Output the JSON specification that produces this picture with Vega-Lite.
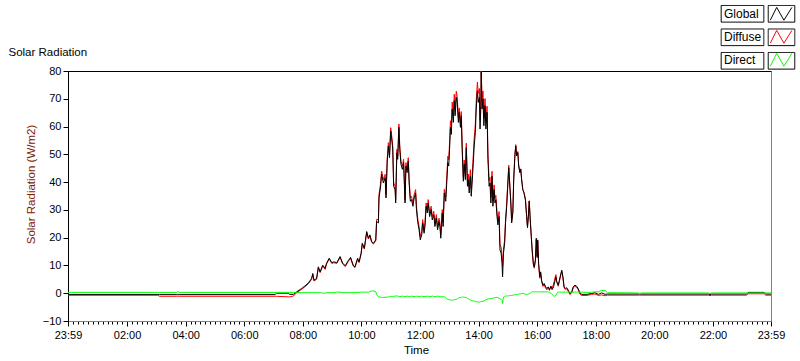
{
"$schema": "https://vega.github.io/schema/vega-lite/v6.json",
"width": 703, "height": 250,
"autosize": "none",
"padding": {"left": 68, "top": 71, "right": 29, "bottom": 40},
"background": "white",
"data": {"values": [
{"t":-0.016667,"g":-0.5,"d":-0.7,"r":0.3},
{"t":3.05,"g":-0.5,"d":-0.7,"r":0.3},
{"t":3.1,"g":-0.5,"d":-1.1,"r":0.3},
{"t":3.7,"g":-0.5,"d":-1.1,"r":0.3},
{"t":3.72,"g":-0.5,"d":-1.1,"r":0.6},
{"t":3.78,"g":-0.5,"d":-1.1,"r":0.3},
{"t":7.05,"g":-0.5,"d":-1.1,"r":0.3},
{"t":7.1,"g":0.0,"d":-1.1,"r":0.3},
{"t":7.5,"g":0.0,"d":-1.3,"r":0.3},
{"t":7.55,"g":-0.4,"d":-1.3,"r":0.3},
{"t":7.68,"g":-0.4,"d":-1.0,"r":0.3},
{"t":7.79,"g":0.5,"d":0.2,"r":0.2},
{"t":7.96,"g":1.7,"d":1.4,"r":0.2},
{"t":8.07,"g":2.6,"d":2.3,"r":0.2},
{"t":8.19,"g":3.7,"d":3.4,"r":0.2},
{"t":8.30,"g":5.3,"d":5.0,"r":0.2},
{"t":8.34,"g":7.1,"d":6.8,"r":0.2},
{"t":8.38,"g":4.7,"d":4.4,"r":0.2},
{"t":8.47,"g":5.3,"d":5.0,"r":0.2},
{"t":8.53,"g":9.5,"d":9.2,"r":0.2},
{"t":8.59,"g":7.7,"d":7.4,"r":0.2},
{"t":8.68,"g":10.1,"d":9.8,"r":0.0},
{"t":8.76,"g":8.9,"d":8.6,"r":0.0},
{"t":8.81,"g":10.8,"d":10.5,"r":0.2},
{"t":8.90,"g":12.6,"d":12.3,"r":0.2},
{"t":8.99,"g":11.0,"d":10.7,"r":0.2},
{"t":9.06,"g":11.3,"d":11.0,"r":0.2},
{"t":9.16,"g":11.0,"d":10.7,"r":0.4},
{"t":9.27,"g":13.2,"d":12.9,"r":0.4},
{"t":9.36,"g":10.8,"d":10.5,"r":0.2},
{"t":9.45,"g":9.9,"d":9.6,"r":0.2},
{"t":9.55,"g":11.7,"d":11.4,"r":0.2},
{"t":9.63,"g":12.9,"d":12.6,"r":0.2},
{"t":9.72,"g":10.1,"d":9.8,"r":0.2},
{"t":9.78,"g":9.5,"d":9.2,"r":0.2},
{"t":9.87,"g":12.6,"d":12.3,"r":0.3},
{"t":9.92,"g":11.3,"d":11.0,"r":0.3},
{"t":9.99,"g":14.4,"d":14.1,"r":0.4},
{"t":10.03,"g":18.0,"d":17.7,"r":0.4},
{"t":10.10,"g":16.2,"d":15.9,"r":0.4},
{"t":10.18,"g":22.2,"d":21.9,"r":0.4},
{"t":10.24,"g":19.8,"d":19.5,"r":0.4},
{"t":10.29,"g":21.0,"d":20.7,"r":0.6},
{"t":10.35,"g":18.6,"d":18.3,"r":0.8},
{"t":10.41,"g":18.0,"d":17.7,"r":0.8},
{"t":10.49,"g":19.2,"d":18.9,"r":0.6},
{"t":10.52,"g":25.8,"d":26.6,"r":-0.5},
{"t":10.58,"g":25.3,"d":26.5,"r":-1.3},
{"t":10.60,"g":34.3,"d":35.5,"r":-1.3},
{"t":10.65,"g":37.9,"d":39.1,"r":-1.4},
{"t":10.69,"g":42.8,"d":44.0,"r":-1.5},
{"t":10.75,"g":39.7,"d":40.9,"r":-1.5},
{"t":10.81,"g":41.6,"d":42.8,"r":-1.5},
{"t":10.84,"g":34.3,"d":35.5,"r":-1.4},
{"t":10.88,"g":47.0,"d":48.2,"r":-1.4},
{"t":10.92,"g":53.0,"d":54.2,"r":-1.3},
{"t":10.96,"g":48.8,"d":50.0,"r":-1.3},
{"t":11.00,"g":58.4,"d":59.6,"r":-1.2},
{"t":11.03,"g":56.0,"d":57.2,"r":-1.2},
{"t":11.07,"g":51.8,"d":53.0,"r":-1.2},
{"t":11.10,"g":38.5,"d":39.7,"r":-1.2},
{"t":11.15,"g":37.3,"d":38.5,"r":-1.0},
{"t":11.17,"g":32.5,"d":33.7,"r":-1.0},
{"t":11.21,"g":50.6,"d":51.8,"r":-1.0},
{"t":11.24,"g":48.2,"d":49.4,"r":-1.0},
{"t":11.28,"g":59.7,"d":60.9,"r":-1.2},
{"t":11.31,"g":51.8,"d":53.0,"r":-1.2},
{"t":11.35,"g":46.4,"d":47.6,"r":-1.2},
{"t":11.40,"g":44.6,"d":45.8,"r":-1.0},
{"t":11.44,"g":47.0,"d":48.2,"r":-1.2},
{"t":11.49,"g":32.5,"d":33.7,"r":-1.2},
{"t":11.52,"g":45.8,"d":47.0,"r":-1.2},
{"t":11.56,"g":43.4,"d":44.6,"r":-1.0},
{"t":11.60,"g":47.6,"d":48.8,"r":-1.2},
{"t":11.63,"g":39.7,"d":40.9,"r":-1.2},
{"t":11.67,"g":33.1,"d":34.3,"r":-1.2},
{"t":11.71,"g":33.7,"d":34.9,"r":-1.0},
{"t":11.76,"g":31.3,"d":32.5,"r":-1.2},
{"t":11.80,"g":34.3,"d":35.5,"r":-1.2},
{"t":11.85,"g":36.1,"d":37.3,"r":-1.2},
{"t":11.88,"g":30.1,"d":31.3,"r":-1.1},
{"t":11.92,"g":25.8,"d":27.0,"r":-1.1},
{"t":11.97,"g":22.8,"d":24.0,"r":-1.2},
{"t":12.01,"g":19.2,"d":20.4,"r":-1.2},
{"t":12.06,"g":21.0,"d":22.2,"r":-1.0},
{"t":12.09,"g":25.3,"d":26.5,"r":-1.2},
{"t":12.14,"g":21.6,"d":22.8,"r":-1.2},
{"t":12.17,"g":24.0,"d":25.2,"r":-1.2},
{"t":12.21,"g":31.3,"d":32.5,"r":-1.2},
{"t":12.25,"g":28.9,"d":30.1,"r":-1.0},
{"t":12.28,"g":32.5,"d":33.7,"r":-1.2},
{"t":12.33,"g":27.6,"d":28.8,"r":-1.2},
{"t":12.38,"g":30.1,"d":31.3,"r":-1.2},
{"t":12.42,"g":26.4,"d":27.6,"r":-1.0},
{"t":12.47,"g":28.3,"d":29.5,"r":-1.2},
{"t":12.51,"g":24.0,"d":25.2,"r":-1.2},
{"t":12.56,"g":27.1,"d":28.3,"r":-1.2},
{"t":12.60,"g":22.8,"d":24.0,"r":-1.0},
{"t":12.65,"g":25.8,"d":27.0,"r":-1.2},
{"t":12.68,"g":24.0,"d":25.3,"r":-1.3},
{"t":12.71,"g":19.8,"d":21.1,"r":-1.3},
{"t":12.76,"g":28.9,"d":30.1,"r":-1.2},
{"t":12.79,"g":24.0,"d":25.3,"r":-1.3},
{"t":12.83,"g":36.1,"d":37.4,"r":-1.3},
{"t":12.88,"g":33.1,"d":34.6,"r":-1.5},
{"t":12.91,"g":39.1,"d":41.1,"r":-2.0},
{"t":12.95,"g":47.0,"d":49.3,"r":-2.3},
{"t":12.98,"g":45.8,"d":48.1,"r":-2.3},
{"t":13.01,"g":51.8,"d":54.2,"r":-2.4},
{"t":13.04,"g":59.7,"d":62.1,"r":-2.4},
{"t":13.07,"g":57.2,"d":59.7,"r":-2.5},
{"t":13.10,"g":66.3,"d":68.8,"r":-2.5},
{"t":13.14,"g":61.5,"d":63.9,"r":-2.4},
{"t":13.17,"g":69.3,"d":71.6,"r":-2.3},
{"t":13.20,"g":63.9,"d":66.2,"r":-2.3},
{"t":13.24,"g":70.5,"d":72.7,"r":-2.2},
{"t":13.27,"g":68.7,"d":70.7,"r":-2.0},
{"t":13.31,"g":61.5,"d":63.3,"r":-1.8},
{"t":13.34,"g":65.1,"d":66.7,"r":-1.6},
{"t":13.38,"g":59.7,"d":61.2,"r":-1.5},
{"t":13.41,"g":63.9,"d":65.4,"r":-1.5},
{"t":13.44,"g":51.8,"d":53.2,"r":-1.4},
{"t":13.48,"g":40.3,"d":41.7,"r":-1.4},
{"t":13.51,"g":46.4,"d":47.9,"r":-1.5},
{"t":13.55,"g":40.9,"d":42.4,"r":-1.5},
{"t":13.58,"g":52.4,"d":54.0,"r":-1.6},
{"t":13.62,"g":38.5,"d":40.3,"r":-1.8},
{"t":13.65,"g":40.9,"d":42.9,"r":-2.0},
{"t":13.68,"g":36.1,"d":38.3,"r":-2.2},
{"t":13.72,"g":42.1,"d":44.5,"r":-2.4},
{"t":13.75,"g":34.9,"d":37.5,"r":-2.6},
{"t":13.78,"g":39.7,"d":42.3,"r":-2.6},
{"t":13.82,"g":47.0,"d":49.8,"r":-2.8},
{"t":13.85,"g":53.0,"d":55.8,"r":-2.8},
{"t":13.89,"g":57.9,"d":60.9,"r":-3.0},
{"t":13.92,"g":66.3,"d":69.3,"r":-3.0},
{"t":13.96,"g":72.9,"d":76.0,"r":-3.1},
{"t":13.99,"g":68.7,"d":71.9,"r":-3.2},
{"t":14.03,"g":70.5,"d":73.7,"r":-3.2},
{"t":14.05,"g":59.1,"d":62.2,"r":-3.1},
{"t":14.08,"g":67.5,"d":70.5,"r":-3.0},
{"t":14.09,"g":79.6,"d":80.4,"r":-3.0},
{"t":14.12,"g":66.3,"d":69.3,"r":-3.0},
{"t":14.15,"g":69.9,"d":72.8,"r":-2.9},
{"t":14.18,"g":60.3,"d":63.1,"r":-2.8},
{"t":14.22,"g":67.5,"d":70.1,"r":-2.6},
{"t":14.25,"g":59.1,"d":61.5,"r":-2.4},
{"t":14.29,"g":65.1,"d":67.3,"r":-2.2},
{"t":14.32,"g":48.2,"d":50.2,"r":-2.0},
{"t":14.36,"g":38.5,"d":40.5,"r":-2.0},
{"t":14.39,"g":39.7,"d":41.7,"r":-2.0},
{"t":14.42,"g":32.5,"d":34.5,"r":-2.0},
{"t":14.46,"g":42.1,"d":43.9,"r":-1.8},
{"t":14.49,"g":31.3,"d":33.1,"r":-1.8},
{"t":14.53,"g":37.3,"d":39.0,"r":-1.7},
{"t":14.56,"g":32.5,"d":34.1,"r":-1.6},
{"t":14.59,"g":33.7,"d":35.2,"r":-1.5},
{"t":14.63,"g":27.6,"d":29.1,"r":-1.5},
{"t":14.66,"g":24.6,"d":26.2,"r":-1.6},
{"t":14.70,"g":27.6,"d":29.4,"r":-1.8},
{"t":14.73,"g":15.6,"d":17.6,"r":-2.0},
{"t":14.77,"g":14.4,"d":16.6,"r":-2.2},
{"t":14.80,"g":10.8,"d":13.4,"r":-2.6},
{"t":14.82,"g":5.9,"d":9.6,"r":-3.7},
{"t":14.85,"g":14.4,"d":15.8,"r":-1.4},
{"t":14.89,"g":18.0,"d":19.2,"r":-1.2},
{"t":14.92,"g":25.3,"d":26.3,"r":-1.0},
{"t":14.96,"g":31.3,"d":32.3,"r":-1.0},
{"t":14.99,"g":37.3,"d":38.3,"r":-1.0},
{"t":15.03,"g":45.2,"d":46.1,"r":-0.9},
{"t":15.06,"g":39.7,"d":40.6,"r":-0.9},
{"t":15.10,"g":32.5,"d":33.3,"r":-0.8},
{"t":15.13,"g":25.3,"d":26.1,"r":-0.8},
{"t":15.17,"g":28.9,"d":29.6,"r":-0.7},
{"t":15.20,"g":40.9,"d":41.5,"r":-0.6},
{"t":15.24,"g":49.4,"d":50.0,"r":-0.6},
{"t":15.27,"g":53.0,"d":53.5,"r":-0.5},
{"t":15.30,"g":49.4,"d":49.9,"r":-0.5},
{"t":15.34,"g":50.6,"d":51.0,"r":-0.4},
{"t":15.37,"g":45.8,"d":46.1,"r":-0.3},
{"t":15.41,"g":43.4,"d":43.6,"r":-0.2},
{"t":15.44,"g":44.6,"d":44.8,"r":-0.2},
{"t":15.47,"g":40.9,"d":41.0,"r":-0.1},
{"t":15.51,"g":37.3,"d":37.3,"r":0.0},
{"t":15.55,"g":36.1,"d":36.3,"r":-0.2},
{"t":15.60,"g":33.5,"d":33.9,"r":-0.4},
{"t":15.64,"g":27.6,"d":28.0,"r":-0.4},
{"t":15.67,"g":23.6,"d":24.0,"r":-0.4},
{"t":15.70,"g":27.6,"d":27.9,"r":-0.3},
{"t":15.73,"g":33.1,"d":33.3,"r":-0.2},
{"t":15.76,"g":27.1,"d":27.1,"r":0.0},
{"t":15.80,"g":20.4,"d":20.1,"r":0.3},
{"t":15.83,"g":15.6,"d":15.1,"r":0.5},
{"t":15.87,"g":10.8,"d":10.3,"r":0.5},
{"t":15.90,"g":9.5,"d":9.0,"r":0.5},
{"t":15.94,"g":12.0,"d":11.5,"r":0.5},
{"t":15.97,"g":19.8,"d":19.3,"r":0.5},
{"t":16.00,"g":13.2,"d":12.7,"r":0.5},
{"t":16.02,"g":19.2,"d":18.7,"r":0.5},
{"t":16.05,"g":10.8,"d":10.3,"r":0.5},
{"t":16.09,"g":5.9,"d":5.4,"r":0.5},
{"t":16.12,"g":7.7,"d":7.2,"r":0.5},
{"t":16.15,"g":4.7,"d":4.2,"r":0.5},
{"t":16.20,"g":2.9,"d":2.4,"r":0.5},
{"t":16.24,"g":3.5,"d":3.0,"r":0.5},
{"t":16.29,"g":2.3,"d":1.8,"r":0.5},
{"t":16.33,"g":1.7,"d":1.2,"r":0.5},
{"t":16.38,"g":2.3,"d":1.9,"r":0.4},
{"t":16.42,"g":1.3,"d":1.0,"r":0.3},
{"t":16.47,"g":2.5,"d":2.5,"r":0.0},
{"t":16.51,"g":1.3,"d":1.8,"r":-0.5},
{"t":16.56,"g":2.3,"d":3.3,"r":-1.0},
{"t":16.60,"g":4.1,"d":5.1,"r":-1.0},
{"t":16.64,"g":5.9,"d":6.7,"r":-0.8},
{"t":16.67,"g":4.1,"d":4.1,"r":0.0},
{"t":16.72,"g":2.9,"d":2.5,"r":0.4},
{"t":16.76,"g":4.7,"d":4.3,"r":0.4},
{"t":16.81,"g":7.1,"d":6.7,"r":0.4},
{"t":16.84,"g":8.3,"d":7.9,"r":0.4},
{"t":16.88,"g":5.9,"d":5.5,"r":0.4},
{"t":16.92,"g":2.3,"d":1.9,"r":0.4},
{"t":16.97,"g":1.7,"d":1.3,"r":0.4},
{"t":17.01,"g":2.0,"d":1.6,"r":0.4},
{"t":17.06,"g":1.1,"d":0.7,"r":0.4},
{"t":17.12,"g":-0.1,"d":-0.5,"r":0.4},
{"t":17.18,"g":0.5,"d":0.1,"r":0.4},
{"t":17.23,"g":2.3,"d":1.9,"r":0.4},
{"t":17.29,"g":2.9,"d":2.5,"r":0.4},
{"t":17.35,"g":2.5,"d":2.1,"r":0.4},
{"t":17.40,"g":1.7,"d":1.3,"r":0.4},
{"t":17.46,"g":0.1,"d":-0.3,"r":0.4},
{"t":17.52,"g":-0.4,"d":-0.8,"r":0.4},
{"t":17.70,"g":-0.4,"d":-0.8,"r":0.3},
{"t":17.86,"g":-0.1,"d":-0.4,"r":0.3},
{"t":17.97,"g":0.2,"d":-0.3,"r":0.5},
{"t":18.09,"g":-0.4,"d":-0.8,"r":0.5},
{"t":18.20,"g":0.1,"d":-0.6,"r":1.0},
{"t":18.32,"g":-0.4,"d":-0.9,"r":1.0},
{"t":18.40,"g":-0.3,"d":-0.7,"r":0.2},
{"t":19.45,"g":-0.3,"d":-0.7,"r":0.1},
{"t":19.5,"g":-0.3,"d":-0.7,"r":-0.2},
{"t":19.55,"g":-0.3,"d":-0.7,"r":0.1},
{"t":21.85,"g":-0.3,"d":-0.7,"r":0.1},
{"t":21.9,"g":-0.6,"d":-0.9,"r":-0.2},
{"t":21.95,"g":-0.3,"d":-0.7,"r":0.1},
{"t":23.15,"g":-0.3,"d":-0.7,"r":0.1},
{"t":23.2,"g":0.3,"d":-0.2,"r":0.1},
{"t":23.75,"g":0.3,"d":-0.2,"r":0.1},
{"t":23.8,"g":-0.3,"d":-0.7,"r":0.1},
{"t":23.983333,"g":-0.3,"d":-0.7,"r":0.1}
]},
"layer": [
 {"mark": {"type": "line", "strokeWidth": 1, "clip": true},
  "encoding": {
   "x": {"field": "t", "type": "quantitative",
         "scale": {"domain": [-0.016667, 23.983333], "nice": false, "zero": false},
         "axis": {"orient": "bottom", "title": "Time", "titleX": 348, "titlePadding": 4,
                  "values": [-0.016667,0.1667,0.3333,0.5,0.6667,0.8333,1,1.1667,1.3333,1.5,1.6667,1.8333,2,2.1667,2.3333,2.5,2.6667,2.8333,3,3.1667,3.3333,3.5,3.6667,3.8333,4,4.1667,4.3333,4.5,4.6667,4.8333,5,5.1667,5.3333,5.5,5.6667,5.8333,6,6.1667,6.3333,6.5,6.6667,6.8333,7,7.1667,7.3333,7.5,7.6667,7.8333,8,8.1667,8.3333,8.5,8.6667,8.8333,9,9.1667,9.3333,9.5,9.6667,9.8333,10,10.1667,10.3333,10.5,10.6667,10.8333,11,11.1667,11.3333,11.5,11.6667,11.8333,12,12.1667,12.3333,12.5,12.6667,12.8333,13,13.1667,13.3333,13.5,13.6667,13.8333,14,14.1667,14.3333,14.5,14.6667,14.8333,15,15.1667,15.3333,15.5,15.6667,15.8333,16,16.1667,16.3333,16.5,16.6667,16.8333,17,17.1667,17.3333,17.5,17.6667,17.8333,18,18.1667,18.3333,18.5,18.6667,18.8333,19,19.1667,19.3333,19.5,19.6667,19.8333,20,20.1667,20.3333,20.5,20.6667,20.8333,21,21.1667,21.3333,21.5,21.6667,21.8333,22,22.1667,22.3333,22.5,22.6667,22.8333,23,23.1667,23.3333,23.5,23.6667,23.8333,23.983333],
                  "labelExpr": "(datum.value < 0 || datum.value > 23.9) ? '23:59' : (datum.value % 2 == 0 ? format(datum.value, '02d') + ':00' : '')",
                  "labelOverlap": false, "labelFlush": false, "labelPadding": 3,
                  "tickSize": {"condition": {"test": "datum.value < 0 || datum.value > 23.9 || datum.value % 2 == 0", "value": 5}, "value": 3},
                  "domainColor": "#808080"}},
   "y": {"field": "d", "type": "quantitative",
         "scale": {"domain": [-10, 80], "nice": false, "zero": false},
         "axis": {"orient": "left", "title": "Solar Radiation (W/m2)", "values": [-10,0,10,20,30,40,50,60,70,80],
                  "tickSize": 5, "labelPadding": 2, "titleColor": "#802000", "titlePadding": 6, "titleY": 113, "domainColor": "#000000"}},
   "color": {"datum": "Diffuse", "type": "nominal",
             "scale": {"domain": ["Global", "Diffuse", "Direct"], "range": ["#000000", "#ff0000", "#00ff00"]},
             "legend": {"title": null, "orient": "none", "legendX": 705, "legendY": -65.7, "direction": "vertical",
                        "symbolType": "M-1.4,0.8L-0.6,-0.8L0.3,0.8L1.3,-0.8", "symbolSize": 256, "symbolStrokeWidth": 1,
                        "labelFont": "Liberation Sans", "labelFontSize": 12, "labelColor": "#000000",
                        "labelOffset": -66, "labelAlign": "left", "rowPadding": 6, "padding": 0}}
  }},
 {"mark": {"type": "line", "strokeWidth": 1, "clip": true},
  "encoding": {
   "x": {"field": "t", "type": "quantitative",
         "axis": {"orient": "top", "labels": false, "ticks": false, "domainColor": "#000000",
                  "title": "Solar Radiation", "titleX": -60, "titleY": -16, "titleAlign": "left", "titleAnchor": "start",
                  "titleBaseline": "alphabetic", "titleFontSize": 11.5, "titleColor": "#000000"}},
   "y": {"field": "g", "type": "quantitative",
         "axis": {"orient": "left", "title": "Solar Radiation (W/m2)", "values": [-10,0,10,20,30,40,50,60,70,80],
                  "tickSize": 5, "labelPadding": 2, "titleColor": "#802000", "titlePadding": 6, "titleY": 113, "domainColor": "#000000"}},
   "color": {"datum": "Global", "type": "nominal"}
  }},
 {"mark": {"type": "line", "strokeWidth": 1, "clip": true},
  "encoding": {
   "x": {"field": "t", "type": "quantitative", "axis": null},
   "y": {"field": "r", "type": "quantitative",
         "axis": {"orient": "left", "title": "Solar Radiation (W/m2)", "values": [-10,0,10,20,30,40,50,60,70,80],
                  "tickSize": 5, "labelPadding": 2, "titleColor": "#802000", "titlePadding": 6, "titleY": 113, "domainColor": "#000000"}},
   "color": {"datum": "Direct", "type": "nominal"}
  }},
 {"transform": [{"fold": ["g", "d", "r"], "as": ["key", "val"]}],
  "mark": {"type": "line", "strokeWidth": 1, "opacity": 0, "color": "#000000", "clip": true},
  "encoding": {
   "x": {"field": "t", "type": "quantitative", "axis": null},
   "y": {"field": "val", "type": "quantitative",
         "axis": {"orient": "left", "title": "Solar Radiation (W/m2)", "values": [-10,0,10,20,30,40,50,60,70,80],
                  "tickSize": 5, "labelPadding": 2, "titleColor": "#802000", "titlePadding": 6, "titleY": 113, "domainColor": "#000000"}},
   "strokeDash": {"field": "key", "type": "nominal",
                  "scale": {"range": [[1, 0], [1, 0], [1, 0]]},
                  "legend": {"title": null, "orient": "none", "legendX": 705, "legendY": -65.7, "direction": "vertical",
                             "symbolType": "M-1.66,-1.04L1.66,-1.04L1.66,1.04L-1.66,1.04Z M-7.54,-1.04L-2.21,-1.04L-2.21,1.04L-7.54,1.04Z",
                             "symbolSize": 256, "symbolStrokeWidth": 1, "symbolStrokeColor": "#000000", "symbolOpacity": 1,
                             "labelExpr": "''", "labelFontSize": 12, "labelOffset": -66, "rowPadding": 2.5, "padding": 0}}
  }}
],
"resolve": {"axis": {"x": "independent"}},
"config": {
 "font": "Liberation Sans",
 "view": {"stroke": "#808080", "strokeWidth": 1},
 "axis": {"labelFont": "Liberation Sans", "titleFont": "Liberation Sans", "labelColor": "#000000", "titleColor": "#000000",
          "tickColor": "#000000", "grid": false, "titleFontWeight": "normal", "labelFontSize": 11, "titleFontSize": 11.5}
}
}
